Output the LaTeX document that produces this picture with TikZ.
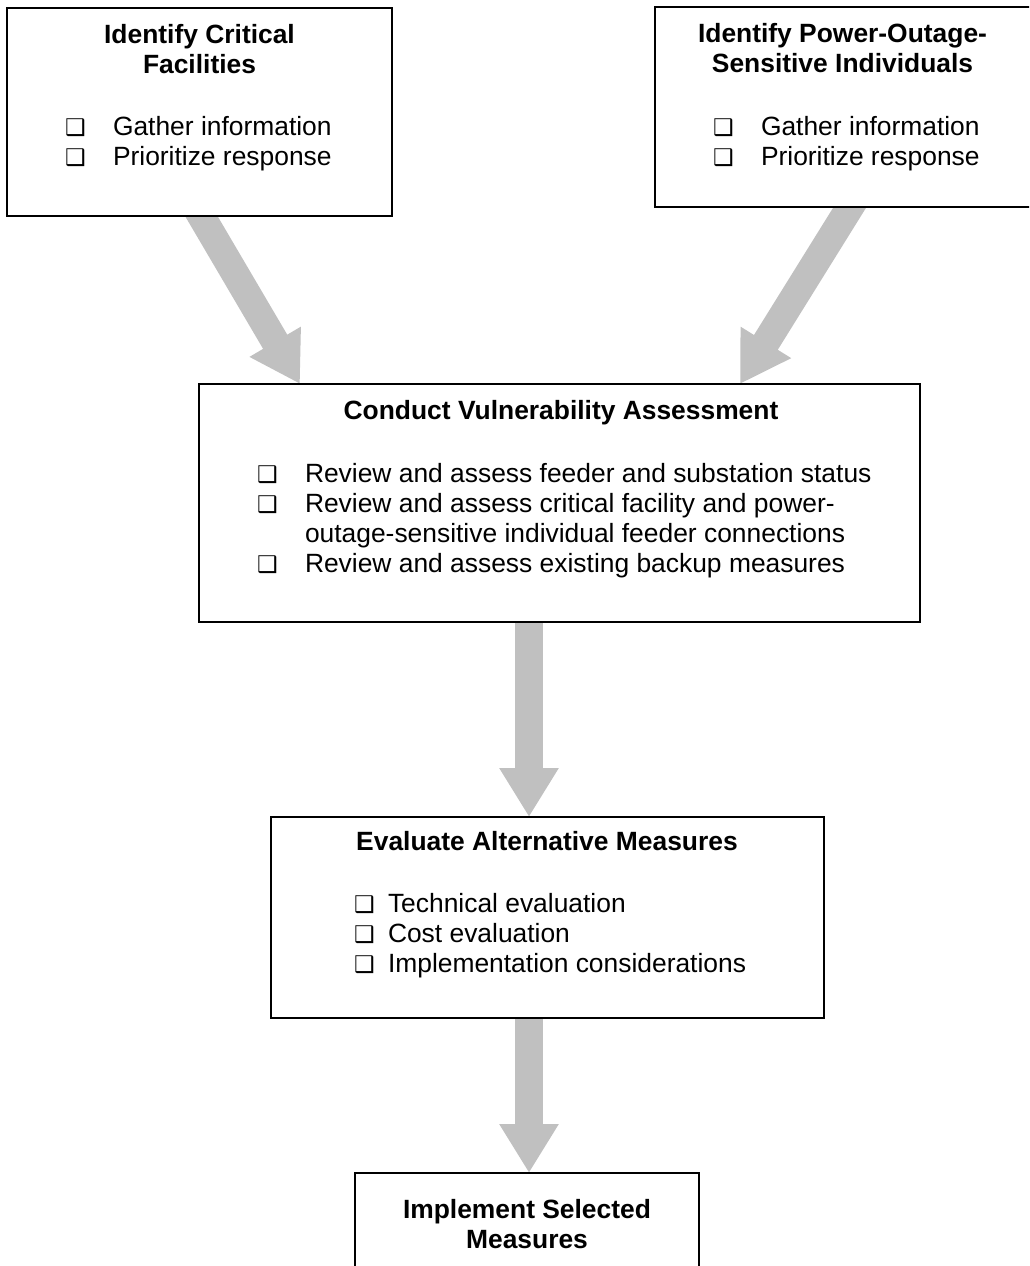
\documentclass[tikz,border=0pt]{standalone}
\usepackage{fontspec}
\setmainfont{Liberation Sans}
\newfontfamily\cbfont{DejaVu Sans}
\usetikzlibrary{arrows.meta,calc}
\definecolor{arrowgray}{RGB}{192,192,192}
\pgfdeclarelayer{bg}
\pgfsetlayers{bg,main}
\newcommand{\cb}{{\cbfont\fontsize{23}{23}\selectfont ❑}}
\newcommand{\cbA}{\makebox[47pt][l]{\hspace*{-1pt}\cb}}
\newcommand{\cbB}{\makebox[33pt][l]{\hspace*{-1pt}\cb}}
\begin{document}
\begin{tikzpicture}[x=1pt,y=-1pt,
  box/.style={draw=black,line width=1.5pt,fill=white,anchor=north west,inner sep=0pt,outer sep=0pt},
  ttl/.style={inner sep=0pt,outer sep=0pt,font=\fontsize{26.4}{30}\selectfont\bfseries,anchor=base},
  items/.style={inner sep=0pt,outer sep=0pt,font=\fontsize{26.4}{30}\selectfont,anchor=base west},
  bigarrow/.style={draw=arrowgray,line width=28pt,-{Triangle[width=56pt,length=49pt]}}]
\useasboundingbox (0,0) rectangle (1029,1266);
\clip (0,0) rectangle (1029,1266);

% boxes
\node[box,minimum width=385pt,minimum height=208pt] (c1) at (7,8) {};
\node[box,minimum width=385pt,minimum height=200pt] (c2) at (655,7) {};
\node[box,minimum width=721pt,minimum height=238pt] (c3) at (199,384) {};
\node[box,minimum width=553pt,minimum height=201pt] (c4) at (271,817) {};
\node[box,minimum width=344pt,minimum height=140pt] (c5) at (355,1173) {};
\coordinate (axis) at (529,0);

% titles
\node[ttl] (t1) at (199.5,43) {\begin{tabular}[t]{@{}c@{}}Identify Critical\\Facilities\end{tabular}};
\node[ttl] (t2) at (842.5,42) {\begin{tabular}[t]{@{}c@{}}Identify Power-Outage-\\Sensitive Individuals\end{tabular}};
\node[ttl] (t3) at (561,419) {Conduct Vulnerability Assessment};
\node[ttl] (t4) at (547,850) {Evaluate Alternative Measures};
\node[ttl] (t5) at (527,1218) {\begin{tabular}[t]{@{}c@{}}Implement Selected\\Measures\end{tabular}};

% item lists
\node[items] (l1) at (66,135) {\begin{tabular}[t]{@{}l@{}}\cbA Gather information\\\cbA Prioritize response\end{tabular}};
\node[items] (l2) at (714,135) {\begin{tabular}[t]{@{}l@{}}\cbA Gather information\\\cbA Prioritize response\end{tabular}};
\node[items] (l3) at (258,482) {\begin{tabular}[t]{@{}l@{}}\cbA Review and assess feeder and substation status\\\cbA Review and assess critical facility and power-\\\makebox[47pt]{}outage-sensitive individual feeder connections\\\cbA Review and assess existing backup measures\end{tabular}};
\node[items] (l4) at (355,912) {\begin{tabular}[t]{@{}l@{}}\cbB Technical evaluation\\\cbB Cost evaluation\\\cbB Implementation considerations\end{tabular}};

% arrows
\begin{pgfonlayer}{bg}
\draw[bigarrow] ([shift={(-10,-20)}]c1.south) -- ([xshift=101pt]c3.north west);
\draw[bigarrow] ([shift={(15,-20)}]c2.south) -- ([xshift=-180pt]c3.north east);
\draw[bigarrow] (c3.south -| axis) -- (c4.north -| axis);
\draw[bigarrow] (c4.south -| axis) -- (c5.north -| axis);
\end{pgfonlayer}
\end{tikzpicture}
\end{document}
